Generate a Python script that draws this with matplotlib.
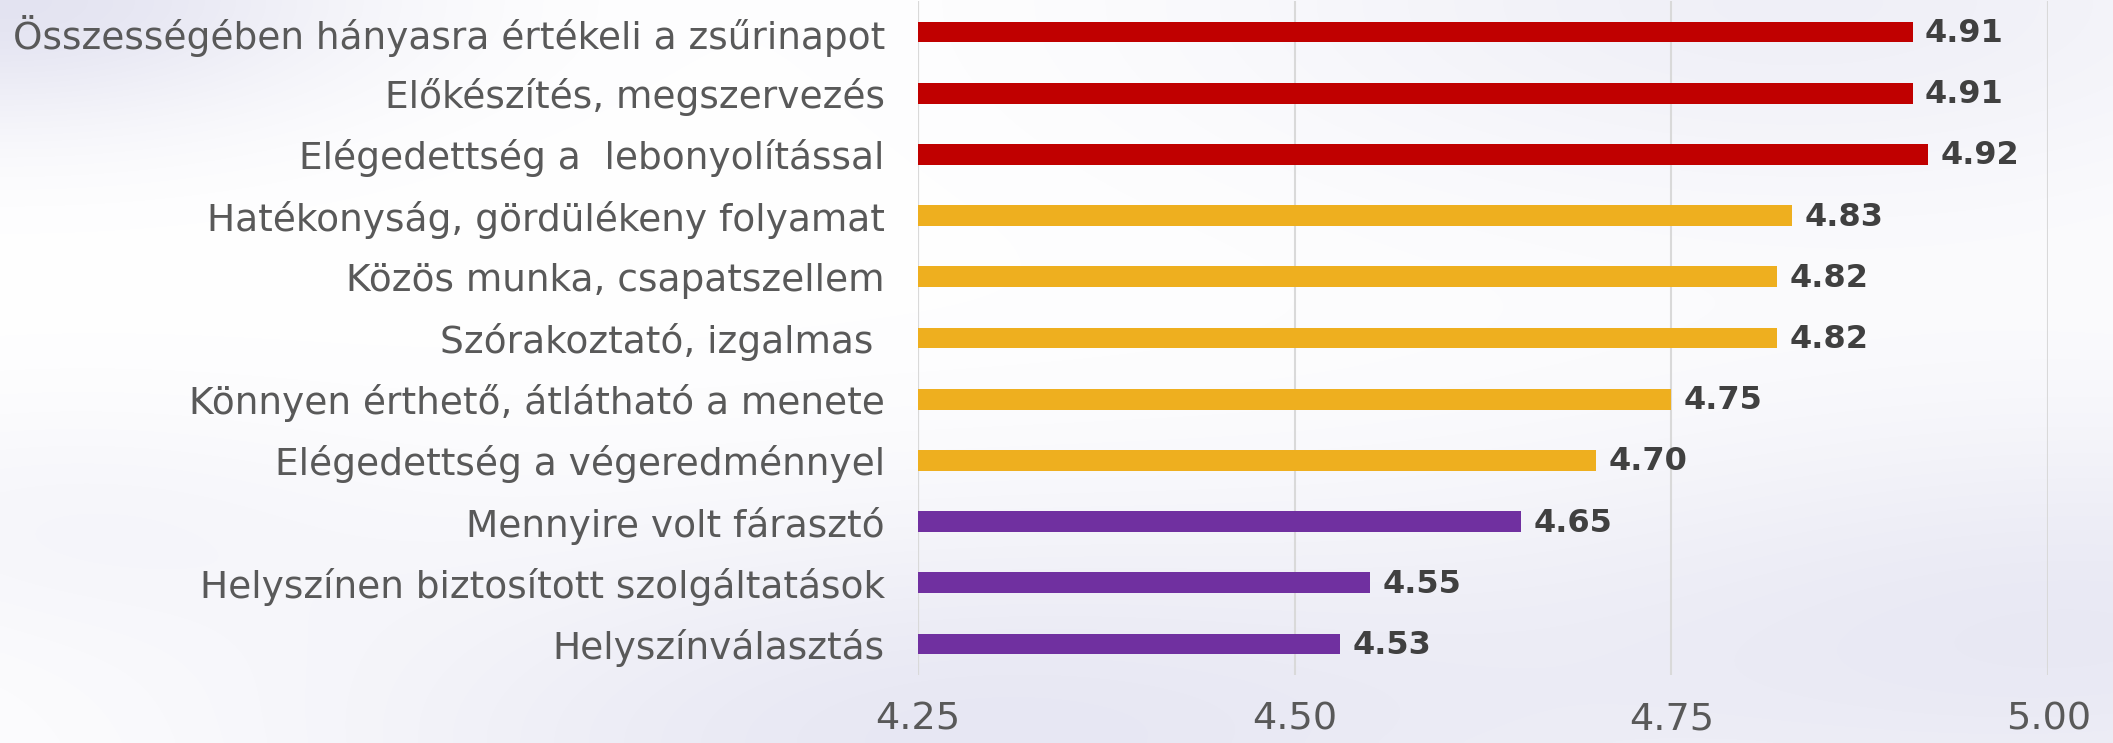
import numpy as np
import matplotlib.pyplot as plt

categories = [
    "Összességében hányasra értékeli a zsűrinapot",
    "Előkészítés, megszervezés",
    "Elégedettség a  lebonyolítással",
    "Hatékonyság, gördülékeny folyamat",
    "Közös munka, csapatszellem",
    "Szórakoztató, izgalmas ",
    "Könnyen érthető, átlátható a menete",
    "Elégedettség a végeredménnyel",
    "Mennyire volt fárasztó",
    "Helyszínen biztosított szolgáltatások",
    "Helyszínválasztás",
]
values = [4.91, 4.91, 4.92, 4.83, 4.82, 4.82, 4.75, 4.70, 4.65, 4.55, 4.53]
groups = ["red"] * 3 + ["orange"] * 5 + ["purple"] * 3
xticks = [4.25, 4.50, 4.75, 5.00]

palette = {"red": "#C00000", "orange": "#EEAF1F", "purple": "#7030A0"}

plt.rcParams['font.family'] = ['DejaVu Sans']

fig = plt.figure(figsize=(21.13, 7.43), dpi=100)

# soft lavender background
bg = fig.add_axes([0, 0, 1, 1], zorder=-10)
h, w = 200, 560
yy, xx = np.mgrid[0:h, 0:w]
yy = yy / h
xx = xx / w
tint = np.zeros((h, w))
blobs = [(0.0, 0.0, 0.12, 0.9), (0.45, 1.0, 0.22, 0.75), (0.85, 0.0, 0.2, 0.5),
         (1.0, 0.85, 0.22, 0.7), (0.02, 0.7, 0.12, 0.25)]
for bx, by, s, a in blobs:
    tint += a * np.exp(-((xx - bx) ** 2 + (yy - by) ** 2) / (2 * s ** 2))
tint = np.clip(tint, 0, 1)
c0 = np.array([1.0, 1.0, 1.0])
c1 = np.array([0.88, 0.88, 0.94])
img = c0[None, None, :] * (1 - tint[..., None]) + c1[None, None, :] * tint[..., None]
bg.imshow(img, aspect='auto', extent=[0, 1, 0, 1], interpolation='bicubic')
bg.axis('off')

ax = fig.add_axes([0.4345, 0.092, 0.5348, 0.906])
ax.patch.set_alpha(0)
y = np.arange(len(categories))
ax.barh(y, [v - xticks[0] for v in values], left=xticks[0], height=0.34,
        color=[palette[g] for g in groups], zorder=3)

for yi, v in zip(y, values):
    ax.annotate(f"{v:.2f}", (v, yi), xytext=(9, -1), textcoords='offset points',
                va='center', ha='left', fontsize=23, fontweight='bold', color='#404040')

ax.set_xlim(4.25, 5.00)
ax.set_ylim(len(categories) - 0.5, -0.5)
ax.set_xticks(xticks)
ax.set_xticklabels([f"{t:.2f}" for t in xticks])
ax.set_yticks(y)
ax.set_yticklabels(categories)
ax.tick_params(axis='y', length=0, pad=24, labelsize=27, labelcolor='#595959')
ax.tick_params(axis='x', length=0, pad=19, labelsize=27.5, labelcolor='#595959')
ax.grid(axis='x', color='#D9D9D9', linewidth=1.5, zorder=0)
for s in ax.spines.values():
    s.set_visible(False)
ax.axvline(4.25, color='#D9D9D9', linewidth=1.5, zorder=1)

fig.savefig("out.png", dpi=100)
